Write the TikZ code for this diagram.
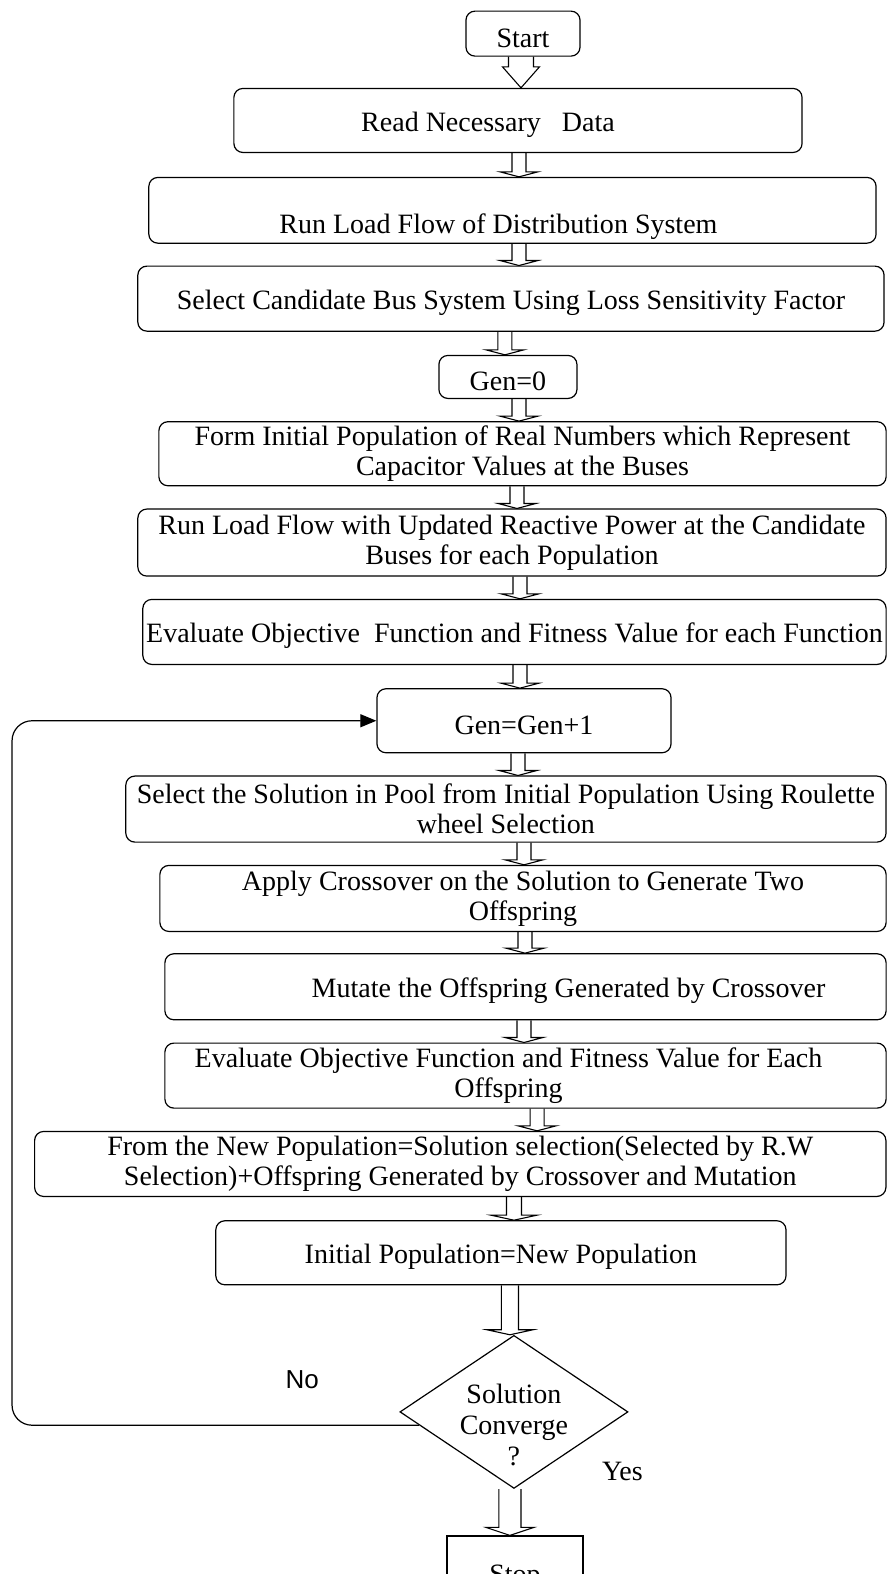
\documentclass[tikz,border=0pt]{standalone}
\usepackage{fontspec}
\setmainfont{Liberation Serif}
\newfontfamily\labelsans{Liberation Sans}
\usetikzlibrary{shapes.geometric,arrows.meta,calc}

% hollow block arrow: from, to, x, shaft half, head half, head length
\newcommand{\blockarrow}[6]{%
  \draw[line width=1.1pt] let \p1=(#1.south), \p2=(#2.north), \p3=(#3,0) in
    (\x3-#4pt,\y1) -- (\x3-#4pt,\y2+#6pt) -- (\x3-#5pt,\y2+#6pt) -- (\x3,\y2)
    -- (\x3+#5pt,\y2+#6pt) -- (\x3+#4pt,\y2+#6pt) -- (\x3+#4pt,\y1);}
\newcommand{\thinarrow}[3]{\blockarrow{#1}{#2}{#3}{7}{19}{5}}

\begin{document}
\begin{tikzpicture}[x=1.0035pt, y=-1.0035pt,
    box/.style={draw, line width=1.2pt, rounded corners=9pt, align=center,
        font=\fontsize{28}{30}\selectfont,
        execute at begin node={\rule{0pt}{28pt}}},
    decision/.style={draw, diamond, line width=1.2pt, inner sep=0pt,
        minimum width=228pt, minimum height=153pt}]
    \clip (0,0) rectangle (886,1568);

    % Steps
    \node[box, minimum width=114pt, minimum height=45pt] (start) at (521,33.5) {Start};
    \node[box, minimum width=568pt, minimum height=64pt] (read) at (516,120) {Read Necessary\ \ \ Data\hspace*{60pt}};
    \node[box, minimum width=727pt, minimum height=65pt, text height=53pt] (runlf) at (510.5,209.5) {Run Load Flow of Distribution System\hspace*{28pt}};
    \node[box, minimum width=746pt, minimum height=65pt] (cand) at (509,297.5) {Select Candidate Bus System Using Loss Sensitivity Factor};
    \node[box, minimum width=138pt, minimum height=43pt] (genzero) at (506,375.5) {Gen=0};
    \node[box, minimum width=727pt, minimum height=64pt] (initpop) at (520.5,452) {Form Initial Population of Real Numbers which Represent\\Capacitor Values at the Buses};
    \node[box, minimum width=748pt, minimum height=67pt] (runupd) at (510,540.5) {Run Load Flow with Updated Reactive Power at the Candidate\\Buses for each Population};
    \node[box, minimum width=743pt, minimum height=65pt] (evalfit) at (512.5,629.5) {Evaluate Objective\ \ Function and Fitness Value for each Function};
    \node[box, minimum width=294pt, minimum height=64pt] (genone) at (522,718) {Gen=Gen+1};
    \node[box, minimum width=760pt, minimum height=66pt] (select) at (504,806) {Select the Solution in Pool from Initial Population Using Roulette\\wheel Selection};
    \node[box, minimum width=726pt, minimum height=66pt] (cross) at (521,895) {Apply Crossover on the Solution to Generate Two\\Offspring};
    \node[box, minimum width=721pt, minimum height=66pt] (mutate) at (523.5,983) {\hspace*{86pt}Mutate the Offspring Generated by Crossover};
    \node[box, minimum width=721pt, minimum height=65pt] (evaloff) at (523.5,1071.5) {Evaluate Objective Function and Fitness Value for Each\hspace*{34pt}\\Offspring\hspace*{34pt}};
    \node[box, minimum width=851pt, minimum height=65pt] (newpop) at (458.5,1159.5) {From the New Population=Solution selection(Selected by R.W\\Selection)+Offspring Generated by Crossover and Mutation};
    \node[box, minimum width=570pt, minimum height=64pt] (initnew) at (499,1248) {Initial Population=New Population};
    \node[decision] (conv) at (512,1406.5) {};
    \node[align=center, font=\fontsize{28}{31}\selectfont] (convtext) at (512,1420) {Solution\\Converge\\?};
    \node[box, rounded corners=0pt, minimum width=136pt, minimum height=72pt, execute at begin node={}] (stop) at (513,1566) {Stop};

    % Block arrows
    \blockarrow{start}{read}{519}{12.5}{18.5}{21}
    \foreach \src/\dst/\pos in {read/runlf/517, runlf/cand/517, cand/genzero/503,
        genzero/initpop/517, initpop/runupd/515, runupd/evalfit/518,
        evalfit/genone/518, genone/select/516, select/cross/522,
        cross/mutate/523, mutate/evaloff/522, evaloff/newpop/535}
        \thinarrow{\src}{\dst}{\pos};
    \blockarrow{newpop}{initnew}{512}{7.5}{23}{5}
    \blockarrow{initnew}{conv}{508}{8.5}{23}{5}
    \blockarrow{conv}{stop}{508}{11}{24}{8}

    % Loop back
    \coordinate (loopleft) at (12,1000);
    \draw[line width=1.2pt, rounded corners=20pt, -{Triangle[length=16pt,width=13pt]}]
        (conv.188) -| (loopleft) |- (genone.west);

    \node[font=\labelsans\fontsize{26}{28}\selectfont] (nolabel) at (301,1374) {No};
    \node[font=\fontsize{28}{30}\selectfont] (yeslabel) at (620,1466) {Yes};
\end{tikzpicture}
\end{document}
